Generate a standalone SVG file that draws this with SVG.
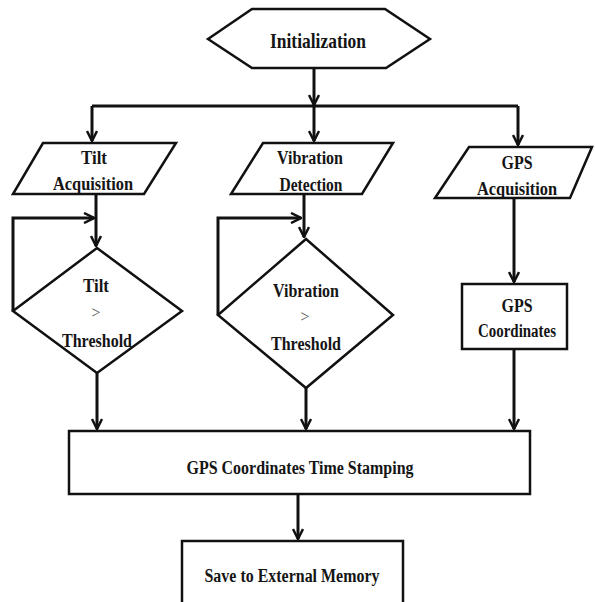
<svg xmlns="http://www.w3.org/2000/svg" width="595" height="602" viewBox="0 0 595 602">
<style>
.shape{fill:#fff;stroke:#111;stroke-width:2.5;stroke-linejoin:miter}
.conn{fill:none;stroke:#111;stroke-width:3}
.t{font-family:"Liberation Serif","Times New Roman",serif;font-weight:bold;font-size:18.5px;fill:#151515;text-anchor:middle}
.gt{font-family:"Liberation Serif","Times New Roman",serif;font-size:16px;fill:#555;text-anchor:middle}
</style>
<defs>
<marker id="arr" viewBox="0 0 12 12" refX="11" refY="6" markerWidth="12" markerHeight="12" markerUnits="userSpaceOnUse" orient="auto">
<path d="M1,1 L11,6 L1,11" fill="none" stroke="#111" stroke-width="2.5"/>
</marker>
</defs>
<rect width="595" height="602" fill="#fff"/>
<g id="connectors">
<path class="conn" d="M314,68 V105" marker-end="url(#arr)"/>
<path class="conn" d="M92,106 H518"/>
<path class="conn" d="M92,106 V141" marker-end="url(#arr)"/>
<path class="conn" d="M314,106 V141" marker-end="url(#arr)"/>
<path class="conn" d="M518,106 V145" marker-end="url(#arr)"/>
<path class="conn" d="M96,194 V246" marker-end="url(#arr)"/>
<path class="conn" d="M13,311 V218 H94" marker-end="url(#arr)"/>
<path class="conn" d="M304,194 V237" marker-end="url(#arr)"/>
<path class="conn" d="M218,315 V218 H301" marker-end="url(#arr)"/>
<path class="conn" d="M514,198 V282" marker-end="url(#arr)"/>
<path class="conn" d="M97,373 V429" marker-end="url(#arr)"/>
<path class="conn" d="M306,388 V429" marker-end="url(#arr)"/>
<path class="conn" d="M514,349 V429" marker-end="url(#arr)"/>
<path class="conn" d="M298,494 V539" marker-end="url(#arr)"/>
</g>
<g id="init">
<polygon class="shape" points="208,39 252,9 385,9 430,39 386,68 252,68"/>
<text class="t" x="318" y="48" style="font-size:22px" textLength="96" lengthAdjust="spacingAndGlyphs">Initialization</text>
</g>
<g id="tilt-acq">
<polygon class="shape" points="43,143 176,143 144,194 13,194"/>
<text class="t" x="94" y="164" textLength="26" lengthAdjust="spacingAndGlyphs">Tilt</text>
<text class="t" x="93" y="190" textLength="80" lengthAdjust="spacingAndGlyphs">Acquisition</text>
</g>
<g id="vib-det">
<polygon class="shape" points="263,143 393,143 362,194 231,194"/>
<text class="t" x="310" y="164" textLength="66" lengthAdjust="spacingAndGlyphs">Vibration</text>
<text class="t" x="311" y="191" textLength="63" lengthAdjust="spacingAndGlyphs">Detection</text>
</g>
<g id="gps-acq">
<polygon class="shape" points="469,147 592,147 570,198 435,198"/>
<text class="t" x="517" y="169" textLength="31" lengthAdjust="spacingAndGlyphs">GPS</text>
<text class="t" x="517" y="195" textLength="80" lengthAdjust="spacingAndGlyphs">Acquisition</text>
</g>
<g id="tilt-dec">
<polygon class="shape" points="97,248 182,311 97,373 13,311"/>
<text class="t" x="96" y="292" textLength="26" lengthAdjust="spacingAndGlyphs">Tilt</text>
<text class="gt" x="96" y="318">&gt;</text>
<text class="t" x="97" y="347" textLength="70" lengthAdjust="spacingAndGlyphs">Threshold</text>
</g>
<g id="vib-dec">
<polygon class="shape" points="306,239 393,315 306,388 218,315"/>
<text class="t" x="306" y="297" textLength="66" lengthAdjust="spacingAndGlyphs">Vibration</text>
<text class="gt" x="305" y="322">&gt;</text>
<text class="t" x="306" y="350" textLength="70" lengthAdjust="spacingAndGlyphs">Threshold</text>
</g>
<g id="gps-coord">
<rect class="shape" x="462" y="284" width="105" height="65"/>
<text class="t" x="517" y="312" textLength="31" lengthAdjust="spacingAndGlyphs">GPS</text>
<text class="t" x="517" y="337" textLength="78" lengthAdjust="spacingAndGlyphs">Coordinates</text>
</g>
<g id="timestamp">
<rect class="shape" x="69" y="431" width="461" height="63"/>
<text class="t" x="300" y="474" textLength="227" lengthAdjust="spacingAndGlyphs">GPS Coordinates Time Stamping</text>
</g>
<g id="save">
<rect class="shape" x="182" y="541" width="221" height="75"/>
<text class="t" x="292" y="582" textLength="175" lengthAdjust="spacingAndGlyphs">Save to External Memory</text>
</g>
</svg>
